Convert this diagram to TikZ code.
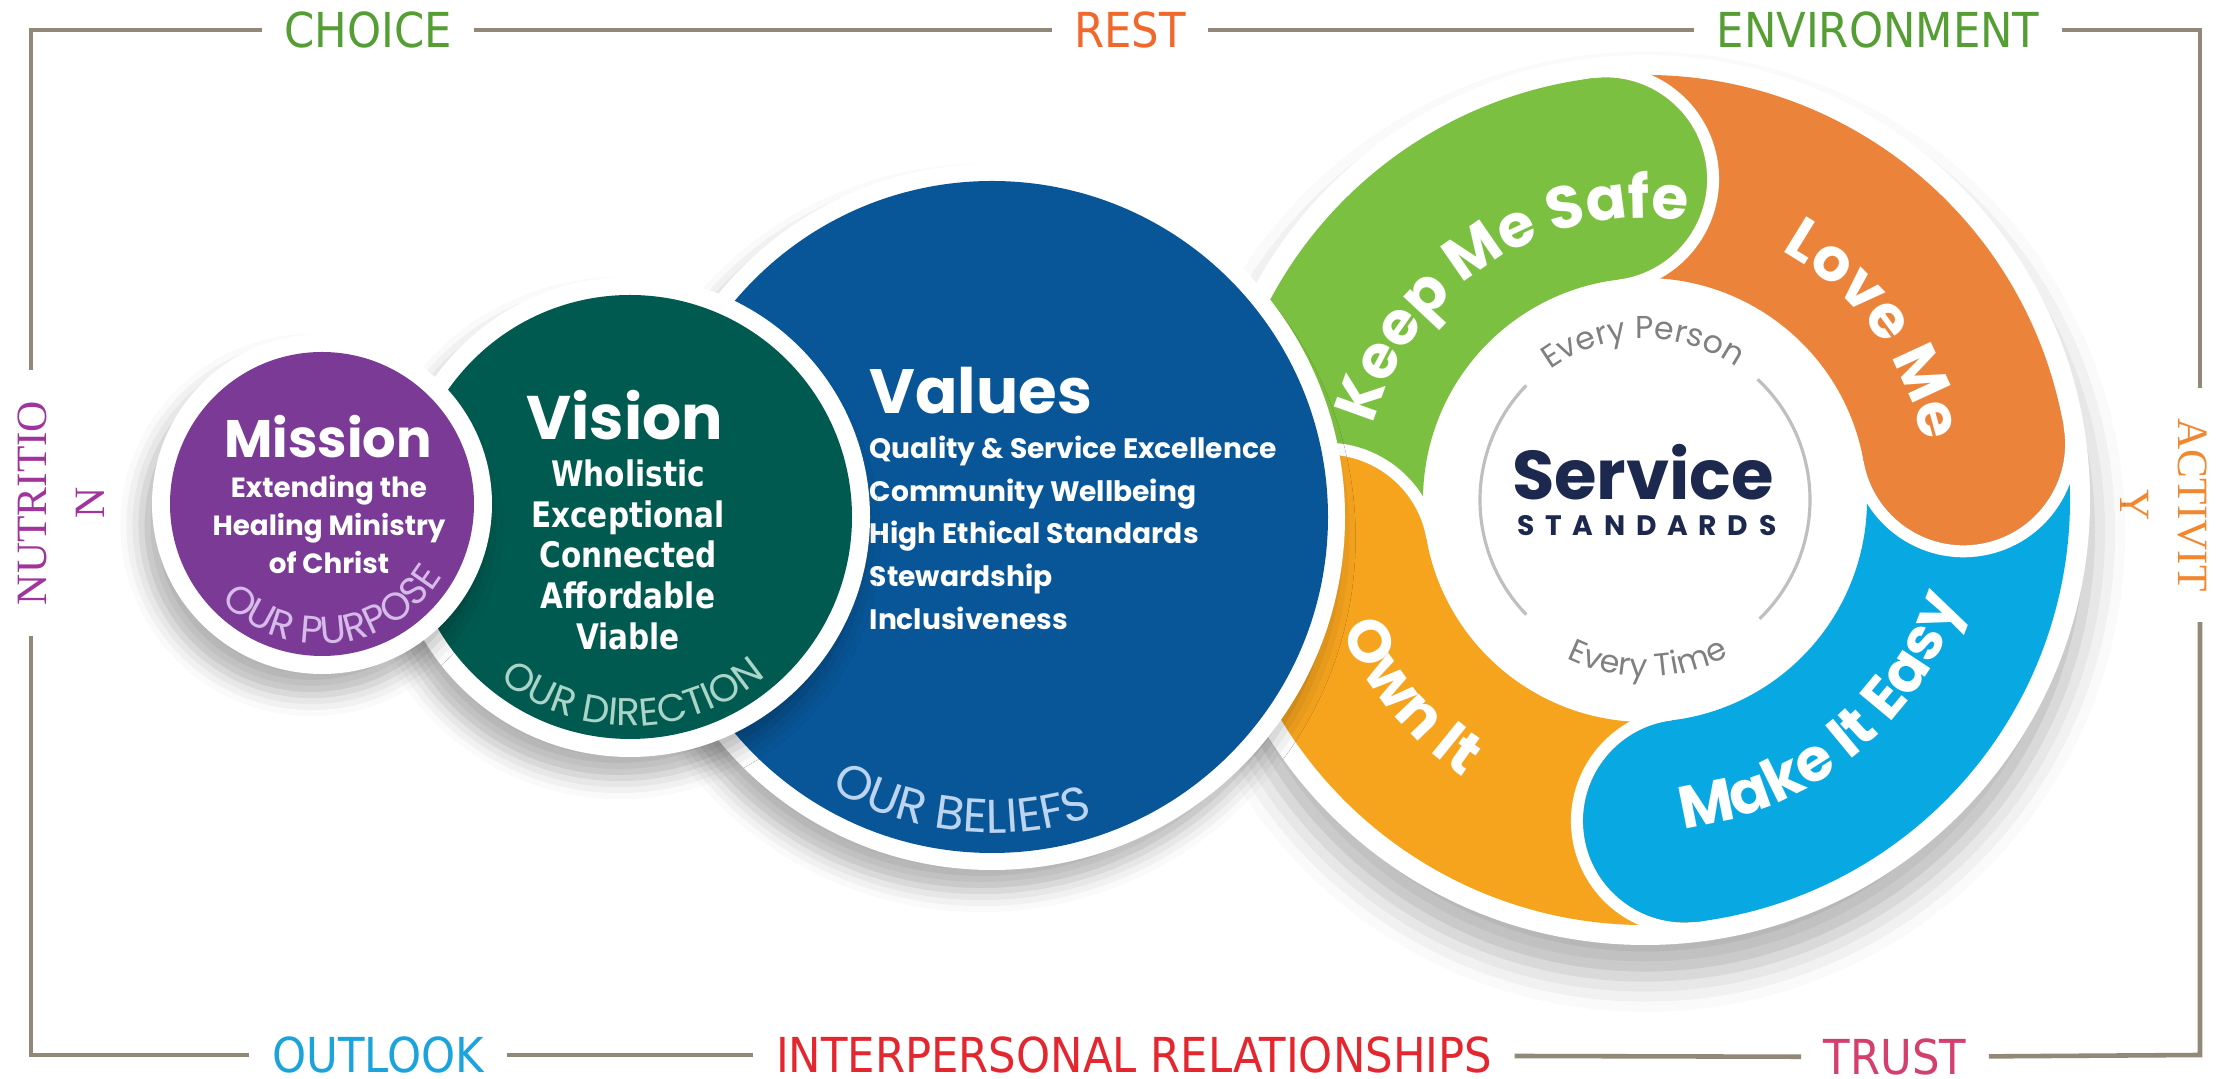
\documentclass[tikz,border=0pt]{standalone}
\usepackage{fontspec}
\newfontfamily\popfont{Poppins}
\newfontfamily\framefont{DejaVu Sans}[FakeStretch=0.9]
\newfontfamily\tahfont{DejaVu Sans}[FakeStretch=0.84]
\newfontfamily\timesfont{Liberation Serif}
\usetikzlibrary{decorations.text,shadows.blur}

\definecolor{framegray}{RGB}{146,136,120}
\definecolor{choicegreen}{RGB}{84,158,52}
\definecolor{restorange}{RGB}{240,104,44}
\definecolor{outlookblue}{RGB}{27,163,220}
\definecolor{interred}{RGB}{228,38,46}
\definecolor{trustpink}{RGB}{212,64,110}
\definecolor{nutripurple}{RGB}{160,52,156}
\definecolor{activorange}{RGB}{241,136,48}
\definecolor{missionpurple}{RGB}{122,58,150}
\definecolor{visiongreen}{RGB}{0,90,80}
\definecolor{valuesblue}{RGB}{8,86,152}
\definecolor{keepgreen}{RGB}{124,192,66}
\definecolor{loveorange}{RGB}{235,132,58}
\definecolor{easyblue}{RGB}{8,169,226}
\definecolor{ownorange}{RGB}{246,164,30}
\definecolor{servicenavy}{RGB}{28,40,78}
\definecolor{everygray}{RGB}{128,128,128}
\definecolor{purposetxt}{RGB}{214,186,232}
\definecolor{directiontxt}{RGB}{170,212,200}
\definecolor{beliefstxt}{RGB}{188,212,238}

\newcommand\wheelfont{\popfont\bfseries\fontsize{17}{17}\selectfont\color{white}}
\newcommand\everyfont{\popfont\fontsize{9}{9}\selectfont\color{everygray}}
\newcommand\ourfont[2]{\popfont\fontsize{#1}{#1}\selectfont\color{#2}}

\begin{document}
\begin{tikzpicture}[x=0.01cm,y=0.01cm,
  frameline/.style={draw=framegray,line width=1.3pt},
  lbl/.style={font=\framefont\fontsize{13.7}{16}\selectfont,inner xsep=0.22cm},
  sidelbl/.style={font=\timesfont\fontsize{12.3}{16.5}\selectfont,align=center,inner xsep=0.3cm},
  ringshadow/.style={blur shadow={shadow xshift=-3pt,shadow yshift=-6pt,shadow blur radius=6pt,shadow opacity=30}},
  headtxt/.style={anchor=base,text=white,font=\popfont\bfseries\fontsize{#1}{#1}\selectfont},
  subtxt/.style={anchor=base,text=white,font=\popfont\bfseries\fontsize{#1}{#1}\selectfont},
  visiontxt/.style={anchor=base,text=white,font=\tahfont\bfseries\fontsize{10}{10}\selectfont},
  valuetxt/.style={anchor=base west,inner sep=0pt,text=white,font=\popfont\bfseries\fontsize{8}{8}\selectfont},
  curved/.style={decorate,decoration={text along path,text align=center,text={#1}}}]
\useasboundingbox (0,0) rectangle (2226,1079);

% frame with the labels
\node[lbl,text=choicegreen] (choice) at (368,1049) {CHOICE};
\node[lbl,text=restorange] (rest) at (1130,1049) {REST};
\node[lbl,text=choicegreen] (env) at (1878,1049) {ENVIRONMENT};
\node[lbl,text=outlookblue] (outlook) at (378,24) {OUTLOOK};
\node[lbl,text=interred] (inter) at (1134,24) {INTERPERSONAL RELATIONSHIPS};
\node[lbl,text=trustpink] (trust) at (1895,22) {TRUST};
\node[sidelbl,rotate=90,text=nutripurple] (nutri) at (61,576) {NUTRITIO\\N};
\node[sidelbl,rotate=-90,text=activorange] (activ) at (2164,574) {ACTIVIT\\Y};
\coordinate (tl) at (31,1049);
\coordinate (tr) at (2200,1049);
\coordinate (bl) at (31,24);
\coordinate (br) at (2200,24);
\draw[frameline] (nutri.east -| tl) -- (tl) -- (choice);
\draw[frameline] (choice) -- (rest);
\draw[frameline] (rest) -- (env);
\draw[frameline] (env) -- (tr) -- (activ.west -| tr);
\draw[frameline] (activ.east -| tr) -- (br) -- (trust);
\draw[frameline] (trust) -- (inter);
\draw[frameline] (inter) -- (outlook);
\draw[frameline] (outlook) -- (bl) -- (nutri.west -| bl);

% service standards wheel
\begin{scope}[shift={(1645,579)}]
\fill[white,blur shadow={shadow xshift=0pt,shadow yshift=-9pt,shadow blur radius=10pt,shadow opacity=30}] (0,0) circle[radius=445];
\foreach \a/\b/\c in {190/97/keepgreen,97/10/loveorange,10/-83/easyblue,-83/-170/ownorange}
  \fill[\c] (\a:425) arc[start angle=\a,end angle=\b,radius=425] -- (\b:222) arc[start angle=\b,end angle=\a,radius=222] -- cycle;
\foreach \b/\c in {97/keepgreen,10/loveorange,-83/easyblue,-170/ownorange}{
  \fill[\c] (\b:323.5) circle[radius=101.5];
  \draw[white,line width=3.4pt] ([shift={(\b:323.5)}]\b:107.5) arc[start angle=\b,end angle=\b-180,radius=107.5];
}
\path[curved={|\wheelfont|Keep Me Safe}] (183:282) arc[start angle=183,end angle=63,radius=282];
\path[curved={|\wheelfont|Love Me}] (96.5:284) arc[start angle=96.5,end angle=-23.5,radius=284];
\path[curved={|\wheelfont|Make It Easy}] (-110.5:331) arc[start angle=-110.5,end angle=9.5,radius=331];
\path[curved={|\wheelfont|Own It}] (160:331) arc[start angle=160,end angle=280,radius=331];
\path[curved={|\everyfont|Every Person}] (150.7:161) arc[start angle=150.7,end angle=30.7,radius=161];
\path[curved={|\everyfont|Every Time}] (211:177) arc[start angle=211,end angle=331,radius=177];
\draw[black!25,line width=0.9pt] (136:165) arc[start angle=136,end angle=224,radius=165];
\draw[black!25,line width=0.9pt] (-46:165) arc[start angle=-46,end angle=47,radius=165];
\node[anchor=base,text=servicenavy,font=\popfont\bfseries\fontsize{19.6}{20}\selectfont] (service) at (-2,0) {Service};
\node[anchor=base,text=servicenavy,font=\popfont\bfseries\fontsize{8}{8}\selectfont\addfontfeature{LetterSpace=38}] (standards) at (2,-36) {STANDARDS};
\end{scope}

% values
\fill[white,ringshadow] (992,562) circle[radius=353];
\fill[valuesblue] (992,562) circle[radius=336];
\node[headtxt=17.8,anchor=base west,inner sep=0pt] (values) at (869,665) {Values};
\node[valuetxt] (quality) at (869,620) {Quality \& Service Excellence};
\node[valuetxt] (community) at (869,577) {Community Wellbeing};
\node[valuetxt] (ethical) at (869,535) {High Ethical Standards};
\node[valuetxt] (steward) at (869,492) {Stewardship};
\node[valuetxt] (inclusive) at (869,449) {Inclusiveness};
\path[curved={|\ourfont{13.5}{beliefstxt}|OUR BELIEFS}] (992,562) ++(204:316) arc[start angle=204,end angle=324,radius=316];

% vision
\fill[white,ringshadow] (630,562) circle[radius=240];
\fill[visiongreen] (630,562) circle[radius=222];
\node[headtxt=17.5] (vision) at (625,639) {Vision};
\node[visiontxt] (wholistic) at (628,592) {Wholistic};
\node[visiontxt] (exceptional) at (628,551) {Exceptional};
\node[visiontxt] (connected) at (628,511) {Connected};
\node[visiontxt] (affordable) at (628,470) {Affordable};
\node[visiontxt] (viable) at (628,429) {Viable};
\path[curved={|\ourfont{11}{directiontxt}|OUR DIRECTION}] (630,562) ++(201:209) arc[start angle=201,end angle=341,radius=209];

% mission
\fill[white,ringshadow] (322,575) circle[radius=170];
\fill[missionpurple] (322,575) circle[radius=152];
\node[headtxt=15] (mission) at (328,621) {Mission};
\node[subtxt=7.9] (extending) at (329,581) {Extending the};
\node[subtxt=7.9] (healing) at (329,543) {Healing Ministry};
\node[subtxt=7.9] (christ) at (329,505) {of Christ};
\path[curved={|\ourfont{11}{purposetxt}|OUR PURPOSE}] (322,575) ++(206.5:140) arc[start angle=206.5,end angle=346.5,radius=140];
\end{tikzpicture}
\end{document}
